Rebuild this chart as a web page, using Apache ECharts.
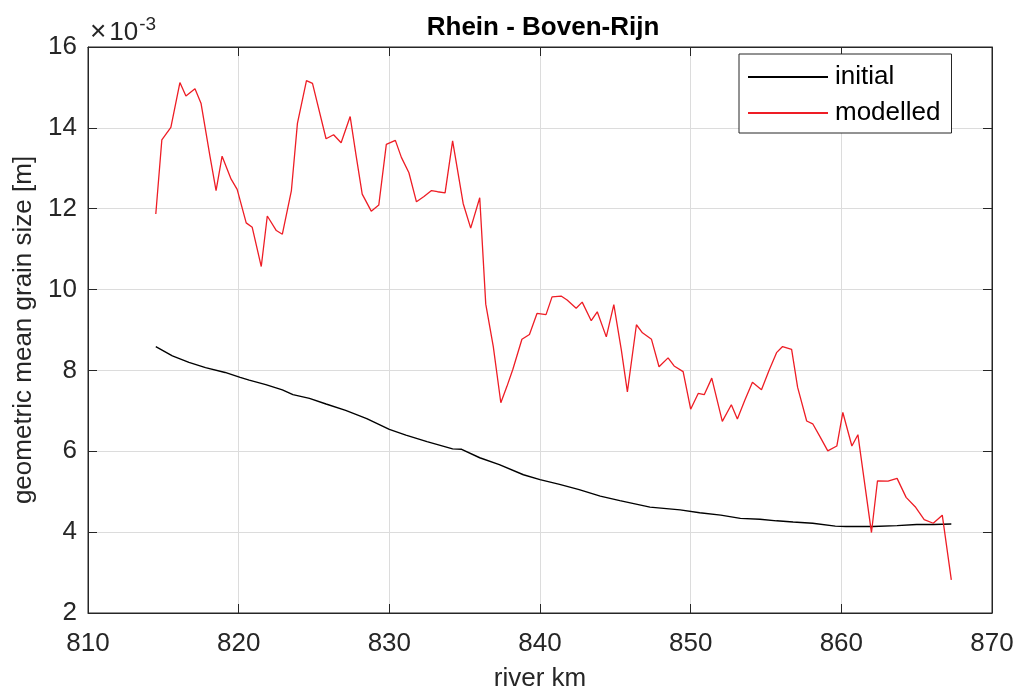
<!DOCTYPE html>
<html>
<head>
<meta charset="utf-8">
<script src="https://cdn.jsdelivr.net/npm/echarts@6/dist/echarts.min.js"></script>
<style>html,body{margin:0;padding:0;background:#fff}#c{width:1031px;height:691px}</style>
</head>
<body>
<div id="c"></div>
<script>
// values in units of 1e-3 m (axis shows x10^-3)
const initialKm = [814.5,815.6,816.7,817.8,819.1,820.1,820.7,821.8,822.9,823.6,824.7,825.8,827.1,828.5,830.0,831.1,832.5,834.2,834.8,836.0,837.3,838.9,840.0,841.3,842.6,844.0,845.3,847.3,849.3,850.6,852.0,853.3,854.6,855.7,856.8,858.1,859.6,860.3,862.1,863.7,865.0,866.1,867.3];
const initialVal = [8.59,8.36,8.20,8.07,7.95,7.83,7.76,7.65,7.52,7.40,7.31,7.17,7.01,6.81,6.54,6.40,6.24,6.06,6.05,5.84,5.67,5.42,5.30,5.18,5.05,4.89,4.78,4.62,4.55,4.48,4.42,4.34,4.32,4.28,4.25,4.22,4.15,4.14,4.14,4.16,4.19,4.19,4.20];
const modelledKm = [814.5,814.9,815.5,816.1,816.5,817.1,817.5,818.1,818.5,818.9,819.5,819.9,820.5,820.9,821.5,821.9,822.5,822.9,823.5,823.9,824.5,824.9,825.8,826.3,826.8,827.4,827.8,828.2,828.8,829.3,829.8,830.4,830.8,831.3,831.8,832.3,832.8,833.2,833.7,834.2,834.9,835.4,836.0,836.4,836.9,837.4,837.8,838.2,838.8,839.3,839.8,840.4,840.8,841.4,841.8,842.4,842.8,843.4,843.8,844.4,844.9,845.4,845.8,846.4,846.8,847.4,847.9,848.5,848.9,849.5,850.0,850.5,850.9,851.4,852.1,852.7,853.1,853.6,854.1,854.7,855.2,855.7,856.1,856.7,857.1,857.7,858.1,858.6,859.1,859.7,860.1,860.7,861.1,862.0,862.4,863.1,863.7,864.3,864.9,865.5,866.1,866.7,867.3];
const modelledVal = [11.87,13.70,14.01,15.12,14.79,14.97,14.61,13.29,12.45,13.30,12.73,12.48,11.65,11.54,10.57,11.82,11.46,11.37,12.45,14.11,15.17,15.10,13.73,13.83,13.63,14.28,13.30,12.36,11.94,12.09,13.59,13.69,13.27,12.89,12.17,12.30,12.45,12.42,12.39,13.68,12.13,11.52,12.27,9.64,8.59,7.20,7.60,8.03,8.77,8.89,9.41,9.38,9.82,9.84,9.74,9.54,9.69,9.23,9.45,8.83,9.63,8.50,7.47,9.13,8.93,8.77,8.09,8.31,8.11,7.97,7.04,7.43,7.40,7.81,6.74,7.15,6.80,7.27,7.71,7.52,8.00,8.44,8.59,8.52,7.58,6.75,6.68,6.35,6.01,6.13,6.96,6.13,6.41,3.99,5.27,5.26,5.33,4.86,4.63,4.31,4.22,4.42,2.82];
const xTicks = [810,820,830,840,850,860,870];
const yTicks = [2,4,6,8,10,12,14,16];
const titleText = 'Rhein - Boven-Rijn';
const xName = 'river km';
const yName = 'geometric mean grain size [m]';

const FONT = '"Liberation Sans", Arial, Helvetica, sans-serif';
const AX = '#262626';
const FS = 26;
const zip = (a, b) => a.map((v, i) => [v, b[i]]);

const chart = echarts.init(document.getElementById('c'), null, {renderer: 'canvas'});
const common = {
  min: xTicks[0], max: xTicks[xTicks.length - 1], interval: 10
};
chart.setOption({
  animation: false,
  backgroundColor: '#fff',
  title: {
    text: titleText, left: 538, top: 10, textAlign: 'center',
    textStyle: {fontFamily: FONT, fontWeight: 'bold', fontSize: 26, color: '#000'}
  },
  grid: {left: 88, right: 39, top: 47, bottom: 78, show: true, borderColor: AX, borderWidth: 1,
         backgroundColor: 'transparent', containLabel: false, outerBoundsMode: 'none'},
  legend: {
    orient: 'vertical', left: 739, top: 54,
    padding: [10, 11, 7, 8], itemGap: 10, itemWidth: 80, itemHeight: 14,
    borderColor: AX, borderWidth: 1, backgroundColor: '#fff',
    itemStyle: {opacity: 0},
    textStyle: {fontFamily: FONT, fontSize: FS, color: '#000', padding: [0, 0, 0, 2]},
    data: ['initial', 'modelled']
  },
  graphic: [{
    type: 'text', left: 90, top: 15,
    style: {
      text: '{x|×}{a|10}{b|-3}',
      rich: {
        x: {fontFamily: FONT, fontSize: 28, fill: AX, verticalAlign: 'bottom', padding: [0, 3, 0, 0]},
        a: {fontFamily: FONT, fontSize: 26, fill: AX, verticalAlign: 'bottom'},
        b: {fontFamily: FONT, fontSize: 19, fill: AX, verticalAlign: 'top', padding: [0, 0, 12, 1]}
      }
    }
  }],
  xAxis: [{
    type: 'value', ...common, position: 'bottom',
    name: xName, nameLocation: 'middle', nameGap: 53,
    nameTextStyle: {fontFamily: FONT, fontSize: FS, color: AX},
    axisLine: {show: true, onZero: false, lineStyle: {color: AX}},
    axisTick: {show: true, inside: true, length: 9, lineStyle: {color: AX}},
    axisLabel: {fontFamily: FONT, fontSize: FS, color: AX, margin: 18},
    splitLine: {show: true, lineStyle: {color: '#dcdcdc', width: 1}}
  }, {
    type: 'value', ...common, position: 'top',
    axisLine: {show: true, onZero: false, lineStyle: {color: AX}},
    axisTick: {show: true, inside: true, length: 9, lineStyle: {color: AX}},
    axisLabel: {show: false}, splitLine: {show: false}
  }],
  yAxis: [{
    type: 'value', min: yTicks[0], max: yTicks[yTicks.length - 1], interval: 2, position: 'left',
    name: yName, nameLocation: 'middle', nameGap: 41,
    nameTextStyle: {fontFamily: FONT, fontSize: FS, color: AX},
    axisLine: {show: true, onZero: false, lineStyle: {color: AX}},
    axisTick: {show: true, inside: true, length: 9, lineStyle: {color: AX}},
    axisLabel: {fontFamily: FONT, fontSize: FS, color: AX, margin: 11, padding: [5, 0, 0, 0]},
    splitLine: {show: true, lineStyle: {color: '#dcdcdc', width: 1}}
  }, {
    type: 'value', min: yTicks[0], max: yTicks[yTicks.length - 1], interval: 2, position: 'right',
    axisLine: {show: true, onZero: false, lineStyle: {color: AX}},
    axisTick: {show: true, inside: true, length: 9, lineStyle: {color: AX}},
    axisLabel: {show: false}, splitLine: {show: false}
  }],
  series: [{
    name: 'initial', type: 'line', symbol: 'none', data: zip(initialKm, initialVal),
    lineStyle: {color: '#000', width: 1.4}, itemStyle: {color: '#000'}
  }, {
    name: 'modelled', type: 'line', symbol: 'none', data: zip(modelledKm, modelledVal),
    lineStyle: {color: '#ee1d25', width: 1.3}, itemStyle: {color: '#ee1d25'}
  }]
});
</script>
</body>
</html>
